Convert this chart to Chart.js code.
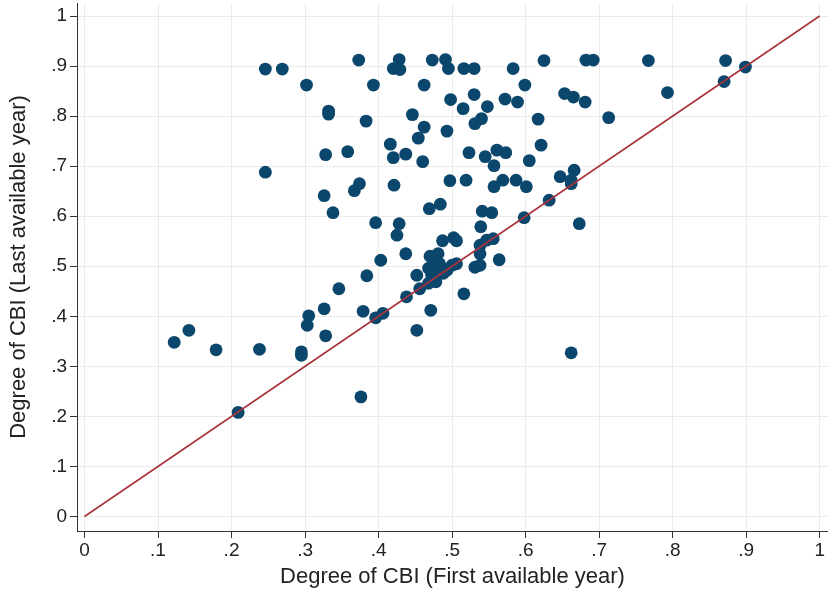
<!DOCTYPE html>
<html>
<head>
<meta charset="utf-8">
<script src="https://cdn.jsdelivr.net/npm/chart.js@4.4.1/dist/chart.umd.min.js"></script>
<style>
  body { margin: 0; background: #fff; }
  #wrap { width: 828px; height: 594px; }
</style>
</head>
<body>
<div id="wrap"><canvas id="cbi" width="828" height="594"></canvas></div>
<script>
// Degree of CBI, first vs last available year (one entry per country)
const firstYear = [
  0.122, 0.142, 0.179, 0.209, 0.238, 0.246, 0.246, 0.269, 0.295, 0.295,
  0.302, 0.305, 0.303, 0.326, 0.328, 0.326, 0.328, 0.332, 0.332, 0.338,
  0.346, 0.358, 0.367, 0.374, 0.373, 0.376, 0.379, 0.383, 0.384, 0.393,
  0.396, 0.396, 0.406, 0.403, 0.416, 0.420, 0.421, 0.420, 0.428, 0.429,
  0.428, 0.425, 0.437, 0.437, 0.438, 0.446, 0.452, 0.454, 0.452, 0.456,
  0.462, 0.462, 0.460, 0.469, 0.473, 0.484, 0.470, 0.481, 0.479, 0.483,
  0.468, 0.472, 0.478, 0.468, 0.471, 0.481, 0.488, 0.487, 0.491, 0.495,
  0.493, 0.498, 0.497, 0.502, 0.506, 0.500, 0.506, 0.493, 0.516, 0.530,
  0.515, 0.519, 0.523, 0.516, 0.530, 0.531, 0.540, 0.548, 0.545, 0.541,
  0.554, 0.539, 0.538, 0.547, 0.556, 0.538, 0.531, 0.538, 0.564, 0.557,
  0.561, 0.573, 0.557, 0.569, 0.572, 0.583, 0.587, 0.589, 0.599, 0.598,
  0.601, 0.605, 0.617, 0.621, 0.625, 0.632, 0.647, 0.653, 0.665, 0.662,
  0.662, 0.666, 0.662, 0.673, 0.681, 0.682, 0.692, 0.713, 0.767, 0.793,
  0.870, 0.872, 0.899
];
const lastYear = [
  0.348, 0.372, 0.333, 0.208, 0.334, 0.894, 0.688, 0.894, 0.329, 0.322,
  0.862, 0.401, 0.382, 0.415, 0.361, 0.641, 0.723, 0.810, 0.804, 0.607,
  0.455, 0.729, 0.651, 0.665, 0.912, 0.239, 0.410, 0.790, 0.481, 0.862,
  0.587, 0.397, 0.406, 0.512, 0.744, 0.717, 0.662, 0.895, 0.913, 0.893,
  0.585, 0.562, 0.724, 0.525, 0.439, 0.803, 0.372, 0.756, 0.482, 0.455,
  0.862, 0.778, 0.709, 0.615, 0.912, 0.624, 0.520, 0.525, 0.508, 0.505,
  0.496, 0.483, 0.469, 0.466, 0.412, 0.493, 0.486, 0.551, 0.913, 0.895,
  0.770, 0.833, 0.671, 0.557, 0.551, 0.502, 0.505, 0.492, 0.895, 0.895,
  0.815, 0.672, 0.727, 0.445, 0.843, 0.785, 0.795, 0.819, 0.719, 0.610,
  0.607, 0.579, 0.542, 0.552, 0.555, 0.525, 0.498, 0.502, 0.513, 0.701,
  0.732, 0.727, 0.659, 0.672, 0.834, 0.895, 0.672, 0.828, 0.862, 0.597,
  0.659, 0.711, 0.794, 0.742, 0.911, 0.632, 0.679, 0.845, 0.838, 0.665,
  0.672, 0.692, 0.327, 0.585, 0.828, 0.912, 0.912, 0.797, 0.911, 0.847,
  0.869, 0.911, 0.898
];
// 45-degree reference line
const lineX = [0, 1];
const lineY = [0, 1];
// axis ticks
const tickValues = [0, 0.1, 0.2, 0.3, 0.4, 0.5, 0.6, 0.7, 0.8, 0.9, 1];

const FONT = "'Liberation Sans', Arial, sans-serif";

function fmtTick(v) {
    if (v === 0) return '0';
    if (v === 1) return '1';
    return v.toFixed(1).replace(/^0/, '');
}

function fixedTicks(scale) {
    scale.ticks = tickValues.map(v => ({ value: v }));
}

const points = firstYear.map((x, i) => ({ x: x, y: lastYear[i] }));
const diag = lineX.map((x, i) => ({ x: x, y: lineY[i] }));

new Chart(document.getElementById('cbi'), {
    type: 'scatter',
    data: {
        datasets: [
            {
                type: 'line',
                data: diag,
                borderColor: '#a8333b',
                borderWidth: 1.6,
                pointRadius: 0,
                fill: false,
                order: 0
            },
            {
                data: points,
                backgroundColor: '#0b466c',
                borderWidth: 0,
                pointRadius: 6.4,
                pointHoverRadius: 6.4,
                order: 1
            }
        ]
    },
    options: {
        responsive: false,
        animation: false,
        layout: { autoPadding: false, padding: { top: 3, right: 0, bottom: 0, left: 0 } },
        plugins: {
            legend: { display: false },
            tooltip: { enabled: false }
        },
        scales: {
            x: {
                type: 'linear',
                min: -0.0102,
                max: 1.0113,
                afterBuildTicks: fixedTicks,
                afterFit: s => { s.height = 63; s.paddingLeft = 0; s.paddingRight = 0; },
                grid: { color: '#ebebeb', lineWidth: 1, tickLength: 7, tickColor: '#333' },
                border: { display: true, color: '#333', width: 1 },
                ticks: {
                    callback: fmtTick,
                    color: '#222',
                    padding: 3,
                    maxRotation: 0,
                    autoSkip: false,
                    font: { family: FONT, size: 19, lineHeight: 1 }
                },
                title: {
                    display: true,
                    text: 'Degree of CBI (First available year)',
                    color: '#222',
                    padding: { top: 0, bottom: 6 },
                    font: { family: FONT, size: 22, lineHeight: 1 }
                }
            },
            y: {
                type: 'linear',
                min: -0.029,
                max: 1.026,
                afterBuildTicks: fixedTicks,
                afterFit: s => { s.width = 77; s.paddingTop = 0; s.paddingBottom = 0; },
                grid: { color: '#ebebeb', lineWidth: 1, tickLength: 7, tickColor: '#333' },
                border: { display: true, color: '#333', width: 1 },
                ticks: {
                    callback: fmtTick,
                    color: '#222',
                    padding: 3,
                    autoSkip: false,
                    font: { family: FONT, size: 19, lineHeight: 1 }
                },
                title: {
                    display: true,
                    text: 'Degree of CBI (Last available year)',
                    color: '#222',
                    padding: { top: 8, bottom: 0 },
                    font: { family: FONT, size: 22, lineHeight: 1 }
                }
            }
        }
    }
});
</script>
</body>
</html>
